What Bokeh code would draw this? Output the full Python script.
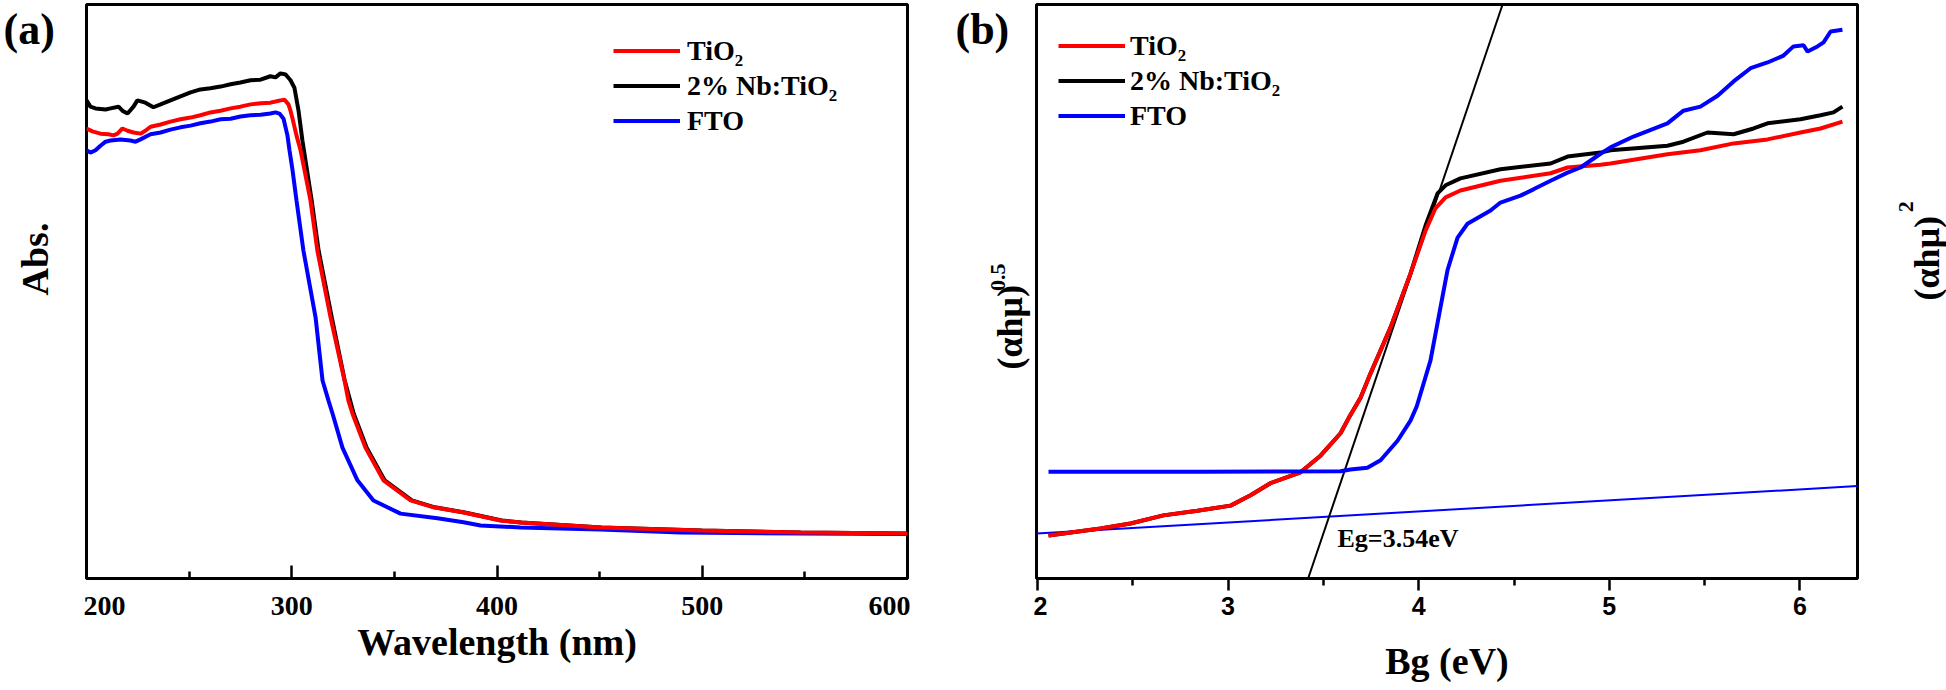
import math
from bokeh.plotting import figure
from bokeh.layouts import row
from bokeh.models import Range1d, FixedTicker, Label, Legend, LegendItem
from bokeh.embed import file_html
from bokeh.resources import INLINE

SERIF = "Liberation Serif"
SANS = "Liberation Sans"

# ---------------- Panel (a) data: absorbance vs wavelength ----------------
wl_tio2 = [200, 202.9, 206.8, 210.7, 213.2, 215.1, 217.5, 220.0, 222.9, 226.3,
           228.7, 231.2, 236.1, 240.9, 245.8, 250.7, 255.5, 260.4, 265.3, 270.2,
           275.0, 279.9, 284.8, 289.6, 292.1, 294.5, 296.5, 298.4, 299.4, 300.4,
           302.3, 304.3, 309.1, 312.5, 318.9, 325.7, 327.6, 329.6, 335.9, 344.7,
           357.9, 369.1, 383.7, 401.7, 411.5, 450.4, 499.1, 547.9, 600]
abs_tio2 = [0.784, 0.779, 0.775, 0.774, 0.772, 0.775, 0.784, 0.780, 0.777, 0.775,
            0.780, 0.787, 0.791, 0.796, 0.800, 0.803, 0.807, 0.812, 0.815, 0.819,
            0.822, 0.826, 0.828, 0.829, 0.831, 0.833, 0.834, 0.826, 0.815, 0.801,
            0.772, 0.746, 0.659, 0.571, 0.455, 0.345, 0.310, 0.287, 0.228, 0.171,
            0.136, 0.124, 0.115, 0.101, 0.0976, 0.0889, 0.0836, 0.0801, 0.0784]

wl_nb = [200, 201.9, 204.4, 209.3, 211.7, 215.6, 217.5, 220.0, 222.9, 224.8,
         228.7, 232.6, 236.1, 240.9, 245.8, 250.7, 255.5, 260.4, 265.3, 270.2,
         275.0, 279.9, 284.8, 289.6, 292.1, 294.5, 297.0, 299.4, 301.3, 303.3,
         305.2, 309.7, 313.1, 319.5, 325.8, 330.2, 336.5, 345.3, 358.5, 369.7,
         384.3, 402.3, 412.0, 451.0, 500.0, 548.0, 600]
abs_nb = [0.833, 0.822, 0.819, 0.817, 0.819, 0.822, 0.815, 0.810, 0.822, 0.833,
          0.829, 0.821, 0.826, 0.833, 0.840, 0.847, 0.852, 0.854, 0.857, 0.861,
          0.864, 0.868, 0.869, 0.875, 0.873, 0.880, 0.878, 0.868, 0.855, 0.815,
          0.763, 0.659, 0.571, 0.455, 0.345, 0.287, 0.228, 0.171, 0.136, 0.124,
          0.115, 0.101, 0.0976, 0.0889, 0.0836, 0.0801, 0.0784]

wl_fto = [200, 201.9, 204.4, 206.8, 209.3, 211.7, 216.6, 221.4, 223.9, 226.3,
          231.2, 236.1, 240.9, 245.8, 250.7, 255.5, 260.4, 265.3, 270.2, 275.0,
          279.9, 284.8, 289.6, 292.1, 294.0, 296.0, 297.9, 298.9, 300.4, 302.3,
          305.7, 311.6, 315.0, 317.9, 319.9, 324.7, 332.0, 339.8, 353.0, 371.0,
          383.7, 392.0, 411.5, 450.4, 489.4, 547.9, 600]
abs_fto = [0.746, 0.742, 0.746, 0.754, 0.761, 0.763, 0.765, 0.763, 0.761, 0.765,
           0.774, 0.777, 0.782, 0.786, 0.789, 0.793, 0.796, 0.800, 0.801, 0.805,
           0.807, 0.808, 0.810, 0.812, 0.810, 0.801, 0.772, 0.746, 0.711, 0.659,
           0.571, 0.455, 0.345, 0.310, 0.287, 0.228, 0.171, 0.136, 0.113, 0.105,
           0.098, 0.0923, 0.0889, 0.0854, 0.0801, 0.0784, 0.0775]

wl_ticks = [200, 300, 400, 500, 600]
wl_minor = [250, 350, 450, 550]

# ---------------- Panel (b) data: Tauc plot ----------------
e_tio2 = [2.058, 2.331, 2.488, 2.661, 2.839, 3.013, 3.118, 3.222, 3.380, 3.485,
          3.590, 3.632, 3.695, 3.747, 3.852, 3.957, 4.036, 4.088, 4.141, 4.219,
          4.429, 4.692, 4.781, 4.954, 5.006, 5.305, 5.478, 5.652, 5.830, 6.003,
          6.108, 6.223]
t_tio2 = [0.0749, 0.0871, 0.0958, 0.110, 0.118, 0.127, 0.145, 0.166, 0.185, 0.214,
          0.253, 0.279, 0.315, 0.357, 0.437, 0.531, 0.606, 0.645, 0.664, 0.676,
          0.693, 0.706, 0.716, 0.721, 0.723, 0.739, 0.746, 0.758, 0.765, 0.777,
          0.784, 0.796]

e_nb = [2.058, 2.331, 2.488, 2.661, 2.839, 3.013, 3.118, 3.222, 3.380, 3.485,
        3.590, 3.632, 3.695, 3.747, 3.852, 3.957, 4.036, 4.099, 4.141, 4.219,
        4.429, 4.692, 4.781, 4.954, 5.006, 5.305, 5.389, 5.515, 5.652, 5.757,
        5.830, 6.003, 6.108, 6.176, 6.223]
t_nb = [0.0749, 0.0871, 0.0958, 0.110, 0.118, 0.127, 0.145, 0.166, 0.185, 0.214,
        0.253, 0.279, 0.315, 0.357, 0.437, 0.531, 0.615, 0.671, 0.685, 0.697,
        0.713, 0.723, 0.735, 0.742, 0.746, 0.754, 0.761, 0.777, 0.774, 0.784,
        0.793, 0.800, 0.807, 0.812, 0.822]

e_fto = [2.058, 2.855, 3.590, 3.642, 3.731, 3.800, 3.889, 3.957, 3.990, 4.062,
         4.114, 4.151, 4.204, 4.256, 4.377, 4.429, 4.534, 4.602, 4.692, 4.781,
         4.849, 4.954, 5.006, 5.127, 5.305, 5.389, 5.478, 5.568, 5.652, 5.741,
         5.830, 5.914, 5.966, 6.019, 6.040, 6.092, 6.124, 6.161, 6.223]
t_fto = [0.186, 0.186, 0.187, 0.190, 0.193, 0.206, 0.240, 0.275, 0.300, 0.380,
         0.472, 0.537, 0.594, 0.618, 0.641, 0.655, 0.667, 0.678, 0.693, 0.707,
         0.716, 0.740, 0.751, 0.770, 0.793, 0.815, 0.822, 0.841, 0.866, 0.889,
         0.899, 0.911, 0.927, 0.929, 0.918, 0.927, 0.934, 0.953, 0.956]

base_e = [1.995, 6.302]
base_t = [0.0784, 0.161]
tan_e = [3.42, 4.44]
tan_t = [0.0, 1.0]

e_ticks = [2, 3, 4, 5, 6]
e_minor = [2.5, 3.5, 4.5, 5.5]

series_names = ["TiO\u2082", "2% Nb:TiO\u2082", "FTO"]
series_colors = ["#ff0000", "#000000", "#0000ff"]
eg_text = "Eg=3.54eV"

H = 690
W_TA, W_PA, W_TB, W_PB, W_TC = 83, 827, 123, 827, 86
X_TA = 0
X_PA = X_TA + W_TA
X_TB = X_PA + W_PA
X_PB = X_TB + W_TB
X_TC = X_PB + W_PB


def style_common(p):
    p.outline_line_color = "black"
    p.outline_line_width = 3
    p.outline_line_alpha = 1
    p.xgrid.visible = False
    p.ygrid.visible = False
    p.background_fill_color = "white"
    p.border_fill_color = "white"


def text_fig(x0, w):
    # helper canvas whose data coordinates are page pixels (y measured upward)
    t = figure(width=w, height=H, output_backend="svg", toolbar_location=None,
               x_range=Range1d(x0, x0 + w), y_range=Range1d(0, H),
               x_axis_location=None, y_axis_location=None,
               min_border_left=0, min_border_right=0, min_border_top=0,
               min_border_bottom=0)
    t.outline_line_color = None
    t.grid.visible = False
    t.background_fill_color = "white"
    t.border_fill_color = "white"
    return t


def add_text(t, x, y, text, size, angle=0.0, align="center"):
    t.add_layout(Label(x=x, y=H - y, text=text, text_font=SERIF,
                       text_font_size=size, text_font_style="bold",
                       text_align=align, text_baseline="middle",
                       text_color="black", angle=angle))


def make_legend(p, renderers, loc, standoff):
    items = [LegendItem(label=n, renderers=[r]) for n, r in zip(series_names, renderers)]
    lg = Legend(items=items, location=loc, glyph_width=67, glyph_height=35,
                label_height=35, spacing=0, padding=0, margin=0,
                label_standoff=standoff, border_line_color=None,
                background_fill_alpha=0, label_text_font=SERIF,
                label_text_font_size="28px", label_text_font_style="bold",
                label_text_color="black")
    p.add_layout(lg, "center")


def style_xaxis(ax, ticks, minor, tin, tout, mtin, mtout, font, fsize, standoff,
                label, lstandoff):
    ax.ticker = FixedTicker(ticks=ticks, minor_ticks=minor)
    ax.major_tick_in = tin
    ax.major_tick_out = tout
    ax.minor_tick_in = mtin
    ax.minor_tick_out = mtout
    ax.major_tick_line_width = 2.5
    ax.minor_tick_line_width = 2.5
    ax.major_tick_line_color = "black"
    ax.minor_tick_line_color = "black"
    ax.axis_line_width = 3
    ax.axis_line_color = "black"
    ax.major_label_text_font = font
    ax.major_label_text_font_size = fsize
    ax.major_label_text_font_style = "bold"
    ax.major_label_text_color = "black"
    ax.major_label_standoff = standoff
    ax.axis_label = label
    ax.axis_label_text_font = SERIF
    ax.axis_label_text_font_size = "38px"
    ax.axis_label_text_font_style = "bold"
    ax.axis_label_text_color = "black"
    ax.axis_label_standoff = lstandoff


# ---------------- figure (a) ----------------
pa = figure(width=W_PA, height=H, output_backend="svg", toolbar_location=None,
            x_range=Range1d(200, 600), y_range=Range1d(0, 1.0),
            y_axis_location=None,
            min_border_left=3, min_border_right=3, min_border_top=4,
            min_border_bottom=112)
style_common(pa)

ra_nb = pa.line(wl_nb, abs_nb, line_color=series_colors[1], line_width=4)
ra_fto = pa.line(wl_fto, abs_fto, line_color=series_colors[2], line_width=4)
ra_tio2 = pa.line(wl_tio2, abs_tio2, line_color=series_colors[0], line_width=4)

style_xaxis(pa.xaxis[0], wl_ticks, wl_minor, 13, 0, 7, 0, SERIF, "28px", 18,
            "Wavelength (nm)", 3)
make_legend(pa, [ra_tio2, ra_nb, ra_fto], (527, 440), 7)

# ---------------- figure (b) ----------------
pb = figure(width=W_PB, height=H, output_backend="svg", toolbar_location=None,
            x_range=Range1d(1.995, 6.302), y_range=Range1d(0, 1.0),
            y_axis_location=None,
            min_border_left=3, min_border_right=3, min_border_top=4,
            min_border_bottom=112)
style_common(pb)

pb.line(base_e, base_t, line_color="#0000ff", line_width=2)
pb.line(tan_e, tan_t, line_color="black", line_width=2)
rb_nb = pb.line(e_nb, t_nb, line_color=series_colors[1], line_width=4)
rb_tio2 = pb.line(e_tio2, t_tio2, line_color=series_colors[0], line_width=4)
rb_fto = pb.line(e_fto, t_fto, line_color=series_colors[2], line_width=4)

style_xaxis(pb.xaxis[0], e_ticks, e_minor, 0, 12, 0, 7, SANS, "25px", 6,
            "Bg (eV)", 22)
make_legend(pb, [rb_tio2, rb_nb, rb_fto], (22, 445), 5)

pb.add_layout(Label(x=3.574, y=0.0697, text=eg_text, text_font=SERIF,
                    text_font_size="26px", text_font_style="bold",
                    text_align="left", text_baseline="middle", text_color="black"))

# ---------------- text strips (outside the plot frames) ----------------
ta = text_fig(X_TA, W_TA)
add_text(ta, 3, 30, "(a)", "44px", align="left")
add_text(ta, 34, 306, "Abs.", "38px", angle=math.pi / 2)

tb = text_fig(X_TB, W_TB)
add_text(tb, 955, 30, "(b)", "44px", align="left")
add_text(tb, 1009, 388, "(\u03b1h\u03bc)", "36px", angle=math.pi / 2)
add_text(tb, 997, 328, "0.5", "22px", angle=math.pi / 2)

tc = text_fig(X_TC, W_TC)
add_text(tc, 1926, 305, "(\u03b1h\u03bc)", "36px", angle=math.pi / 2)
add_text(tc, 1905, 243, "2", "22px", angle=math.pi / 2)

layout = row(ta, pa, tb, pb, tc)
open("out.html", "w").write(file_html(layout, INLINE))
